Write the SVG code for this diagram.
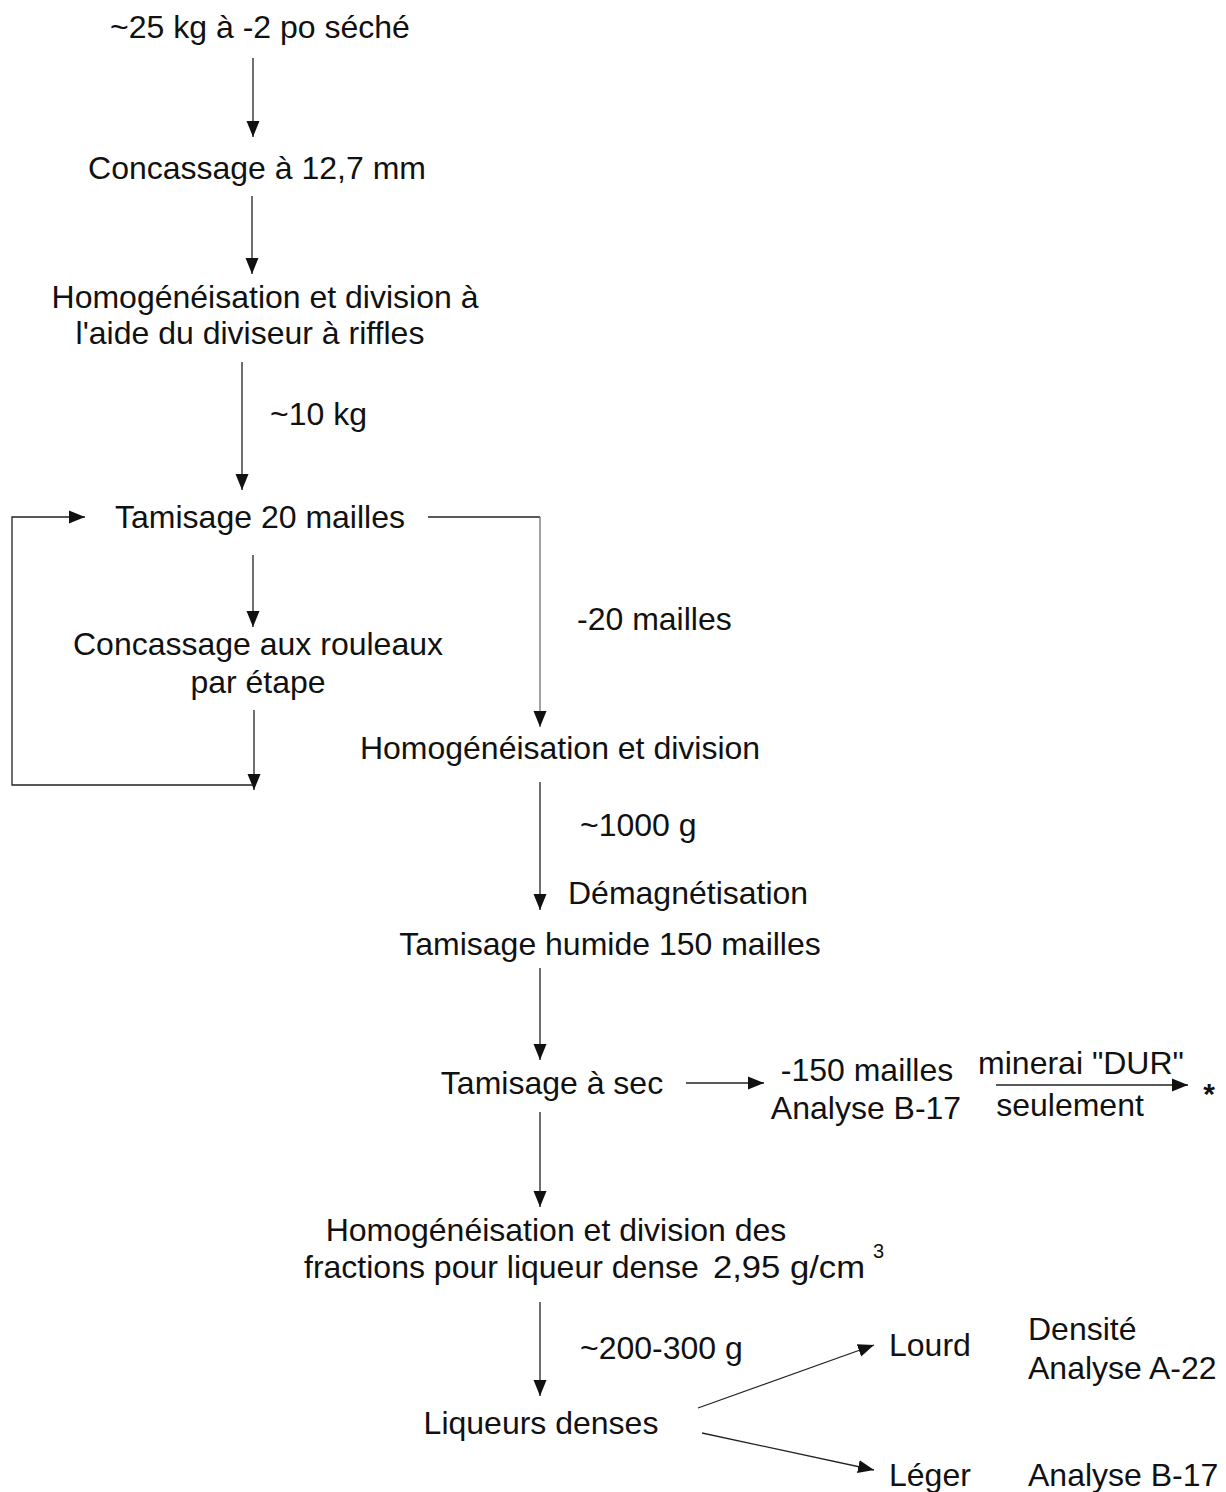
<svg xmlns="http://www.w3.org/2000/svg" width="1226" height="1492" viewBox="0 0 1226 1492">
<style>
text{font-family:"Liberation Sans",Arial,sans-serif;font-size:32px;fill:#111;}
.m{text-anchor:middle;}
.c{fill:none;stroke:#222;stroke-width:1.3;}
.g{fill:none;stroke:#666;stroke-width:1.2;}
</style>
<defs>
<marker id="ah" markerUnits="userSpaceOnUse" markerWidth="17" markerHeight="14" refX="16" refY="7" orient="auto">
<path d="M0,0.5 L16,7 L0,13.5 Z" fill="#111"/>
</marker>
</defs>
<rect width="1226" height="1492" fill="#fff"/>
<g id="connectors">
<line class="c" x1="253" y1="58" x2="253" y2="137" marker-end="url(#ah)"/>
<line class="c" x1="252" y1="196" x2="252" y2="274" marker-end="url(#ah)"/>
<line class="c" x1="242" y1="362" x2="242" y2="490" marker-end="url(#ah)"/>
<line class="c" x1="428" y1="517" x2="540" y2="517"/>
<polyline class="g" points="540,517 540,727" marker-end="url(#ah)"/>
<line class="c" x1="253" y1="555" x2="253" y2="627" marker-end="url(#ah)"/>
<line class="c" x1="254" y1="710" x2="254" y2="790" marker-end="url(#ah)"/>
<polyline class="c" points="254,785 12,785 12,517 85,517" marker-end="url(#ah)"/>
<line class="c" x1="540" y1="782" x2="540" y2="910" marker-end="url(#ah)"/>
<line class="c" x1="540" y1="968" x2="540" y2="1060" marker-end="url(#ah)"/>
<line class="c" x1="686" y1="1083" x2="764" y2="1083" marker-end="url(#ah)"/>
<line class="c" x1="996" y1="1085" x2="1188" y2="1085" marker-end="url(#ah)"/>
<line class="c" x1="540" y1="1112" x2="540" y2="1207" marker-end="url(#ah)"/>
<line class="c" x1="540" y1="1302" x2="540" y2="1396" marker-end="url(#ah)"/>
<line class="c" x1="698" y1="1408" x2="874" y2="1345" marker-end="url(#ah)"/>
<line class="c" x1="702" y1="1433" x2="874" y2="1470" marker-end="url(#ah)"/>
</g>
<g id="n-start"><text class="m" x="260" y="38">~25 kg à -2 po séché</text></g>
<g id="n-concassage"><text class="m" x="257" y="179">Concassage à 12,7 mm</text></g>
<g id="n-homog1"><text class="m" x="265" y="308">Homogénéisation et division à</text><text class="m" x="250" y="344">l'aide du diviseur à riffles</text></g>
<g id="l-10kg"><text x="270" y="425">~10 kg</text></g>
<g id="n-tamisage20"><text class="m" x="260" y="528">Tamisage 20 mailles</text></g>
<g id="l-20mailles"><text x="577" y="630">-20 mailles</text></g>
<g id="n-rouleaux"><text class="m" x="258" y="655">Concassage aux rouleaux</text><text class="m" x="258" y="693">par étape</text></g>
<g id="n-homog2"><text class="m" x="560" y="759">Homogénéisation et division</text></g>
<g id="l-1000g"><text x="580" y="836">~1000 g</text></g>
<g id="l-demag"><text x="568" y="904">Démagnétisation</text></g>
<g id="n-humide"><text class="m" x="610" y="955">Tamisage humide 150 mailles</text></g>
<g id="n-sec"><text class="m" x="552" y="1094">Tamisage à sec</text></g>
<g id="n-150"><text class="m" x="867" y="1081">-150 mailles</text><text class="m" x="866" y="1119">Analyse B-17</text></g>
<g id="l-dur"><text class="m" x="1081" y="1074">minerai "DUR"</text><text class="m" x="1070" y="1116">seulement</text></g>
<g id="n-star"><text class="m" x="1209" y="1104" style="font-weight:bold;font-size:30px">*</text></g>
<g id="n-homog3"><text class="m" x="556" y="1241">Homogénéisation et division des</text><text x="304" y="1278">fractions pour liqueur dense</text><text x="713" y="1278" textLength="152" lengthAdjust="spacingAndGlyphs">2,95 g/cm</text><text x="873" y="1258" style="font-size:20px">3</text></g>
<g id="l-200"><text x="580" y="1359">~200-300 g</text></g>
<g id="n-liqueurs"><text class="m" x="541" y="1434">Liqueurs denses</text></g>
<g id="n-lourd"><text x="889" y="1356">Lourd</text></g>
<g id="n-lourd-an"><text x="1028" y="1340">Densité</text><text x="1028" y="1379">Analyse A-22</text></g>
<g id="n-leger"><text x="889" y="1486">Léger</text></g>
<g id="n-leger-an"><text x="1028" y="1486">Analyse B-17</text></g>
</svg>
